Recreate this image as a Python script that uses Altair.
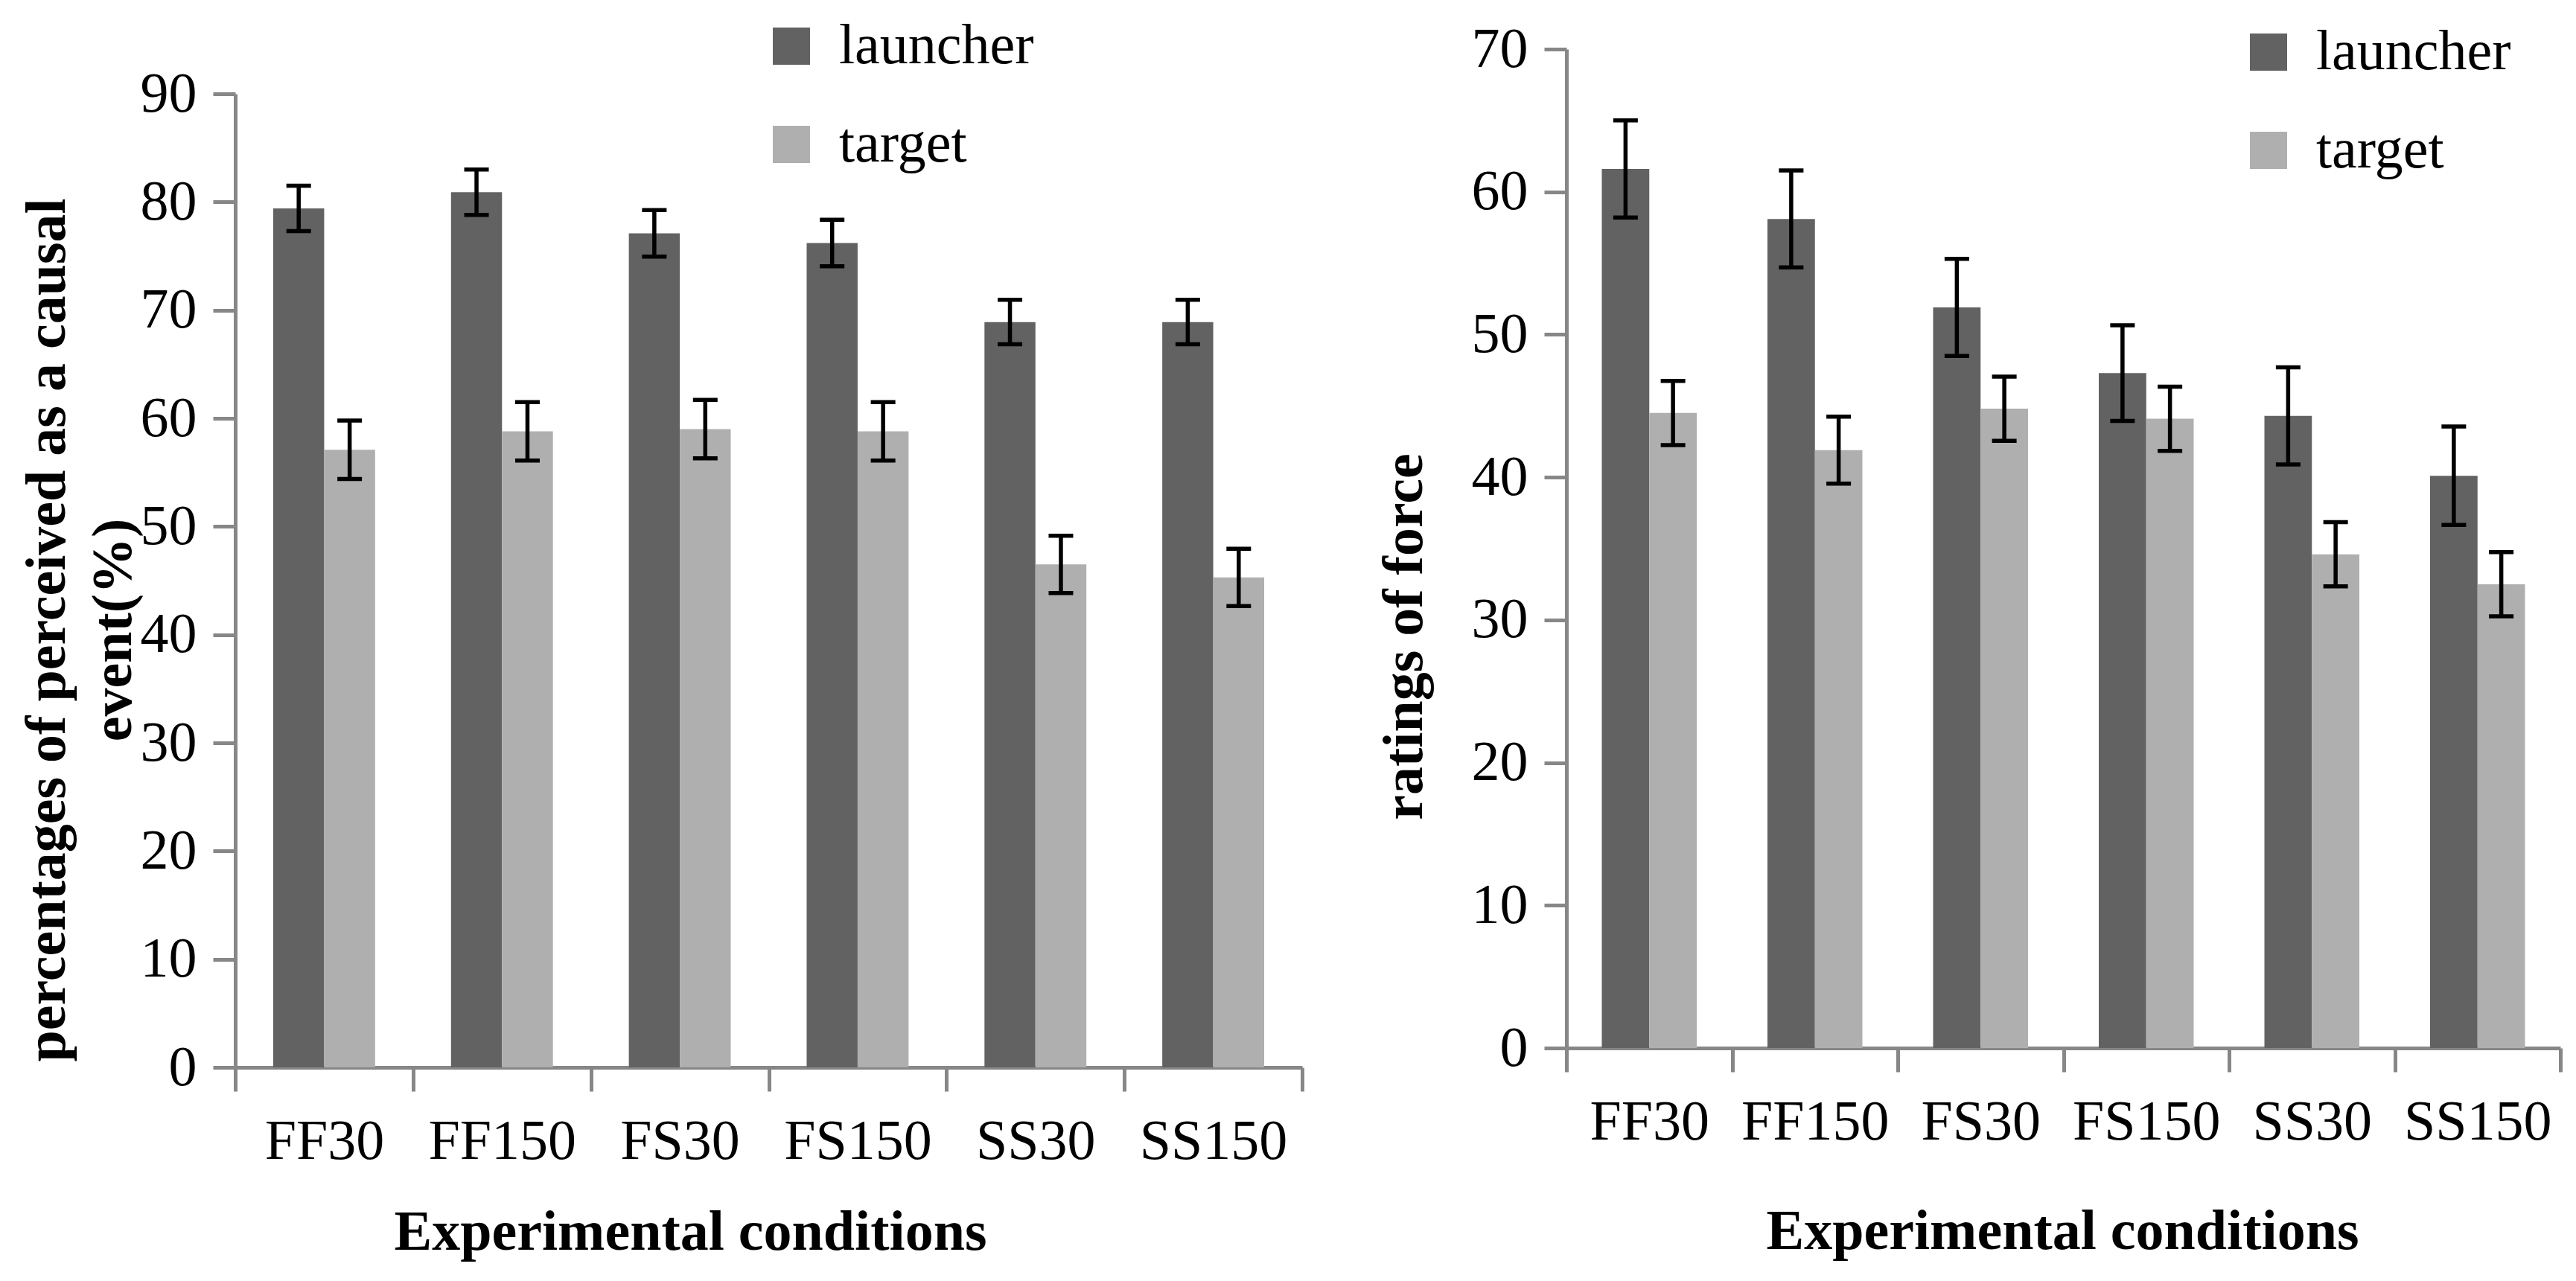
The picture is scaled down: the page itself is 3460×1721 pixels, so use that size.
import altair as alt
import pandas as pd

conditions = ["FF30", "FF150", "FS30", "FS150", "SS30", "SS150"]
series = ["launcher", "target"]

# Left panel: percentages of perceived as a causal event (%)
pct_launcher = [79.4, 80.9, 77.1, 76.2, 68.9, 68.9]
pct_launcher_err = [2.1, 2.1, 2.15, 2.15, 2.05, 2.05]
pct_target = [57.1, 58.8, 59.0, 58.8, 46.5, 45.3]
pct_target_err = [2.7, 2.7, 2.7, 2.7, 2.65, 2.65]

# Right panel: ratings of force
force_launcher = [61.6, 58.1, 51.9, 47.3, 44.3, 40.1]
force_launcher_err = [3.4, 3.4, 3.4, 3.35, 3.4, 3.45]
force_target = [44.5, 41.9, 44.8, 44.1, 34.6, 32.5]
force_target_err = [2.25, 2.35, 2.25, 2.25, 2.25, 2.25]

left_ticks = [0, 10, 20, 30, 40, 50, 60, 70, 80, 90]
right_ticks = [0, 10, 20, 30, 40, 50, 60, 70]

COLORS = ["#626262", "#afafaf"]
AXIS_GRAY = "#878787"
FONT = "Liberation Serif"


def make_df(launcher, launcher_err, target, target_err):
    rows = []
    for i, c in enumerate(conditions):
        rows.append({"condition": c, "series": "launcher", "value": launcher[i],
                     "lo": launcher[i] - launcher_err[i], "hi": launcher[i] + launcher_err[i]})
        rows.append({"condition": c, "series": "target", "value": target[i],
                     "lo": target[i] - target_err[i], "hi": target[i] + target_err[i]})
    return pd.DataFrame(rows)


def panel(df, ymax, ticks, ytitle, width, height, top, ytitle_x, ytitle_y,
          xtitle_x, xtitle_y, leg_x, leg_y):
    xaxis = alt.Axis(
        title="Experimental conditions",
        tickBand="extent",
        labelAngle=0, labelLimit=1000,
        labelFont=FONT, labelFontSize=76, labelColor="black",
        labelBaseline="alphabetic", labelPadding=90,
        tickSize=32, tickWidth=5, tickColor=AXIS_GRAY,
        domainWidth=5, domainColor=AXIS_GRAY,
        titleFont=FONT, titleFontSize=76, titleFontWeight="bold", titleColor="black",
        titleBaseline="alphabetic", titleX=xtitle_x, titleY=xtitle_y, titleAlign="center",
        titleLimit=3000,
        grid=False,
    )
    yaxis = alt.Axis(
        title=ytitle,
        values=ticks, labelLimit=1000,
        labelFont=FONT, labelFontSize=76, labelColor="black", labelPadding=22,
        tickSize=30, tickWidth=5, tickColor=AXIS_GRAY,
        domainWidth=5, domainColor=AXIS_GRAY,
        titleFont=FONT, titleFontSize=76, titleFontWeight="bold", titleColor="black",
        titleAngle=270, titleBaseline="alphabetic", titleAlign="center",
        titleLineHeight=89, titleX=ytitle_x, titleY=ytitle_y, titleLimit=3000,
        grid=False,
    )
    x = alt.X("condition:N", sort=conditions,
              scale=alt.Scale(paddingInner=0, paddingOuter=0), axis=xaxis)
    xo = alt.XOffset("series:N", sort=series,
                     scale=alt.Scale(paddingInner=0, paddingOuter=0.745))
    yscale = alt.Scale(domain=[0, ymax], range=[height, top], nice=False, zero=True)

    base = alt.Chart(df)
    bars = base.mark_bar().encode(
        x=x, xOffset=xo,
        y=alt.Y("value:Q", scale=yscale, axis=yaxis),
        color=alt.Color("series:N", sort=series,
                        scale=alt.Scale(domain=series, range=COLORS),
                        legend=alt.Legend(
                            title=None, orient="none", legendX=leg_x, legendY=leg_y,
                            symbolType="square", symbolSize=2500, symbolStrokeWidth=0,
                            labelFont=FONT, labelFontSize=76, labelColor="black",
                            labelOffset=26, rowPadding=56, padding=0, labelLimit=1000,
                        )),
    )
    rules = base.mark_rule(color="black", strokeWidth=5.5).encode(
        x=x, xOffset=xo,
        y=alt.Y("lo:Q", scale=yscale, axis=yaxis),
        y2="hi:Q",
    )
    cap_hi = base.mark_tick(color="black", size=33, thickness=5.5, opacity=1).encode(
        x=x, xOffset=xo, y=alt.Y("hi:Q", scale=yscale, axis=yaxis))
    cap_lo = base.mark_tick(color="black", size=33, thickness=5.5, opacity=1).encode(
        x=x, xOffset=xo, y=alt.Y("lo:Q", scale=yscale, axis=yaxis))
    return alt.layer(bars, rules, cap_hi, cap_lo).properties(width=width, height=height)


left = panel(make_df(pct_launcher, pct_launcher_err, pct_target, pct_target_err),
             90, left_ticks,
             ["percentages of perceived as a causal", "event(%)"],
             width=1433, height=1368, top=60,
             ytitle_x=-230, ytitle_y=780, xtitle_x=611, xtitle_y=244,
             leg_x=709, leg_y=-42)

right = panel(make_df(force_launcher, force_launcher_err, force_target, force_target_err),
              70, right_ticks, "ratings of force",
              width=1335, height=1342, top=0,
              ytitle_x=-195, ytitle_y=789, xtitle_x=666, xtitle_y=269,
              leg_x=905, leg_y=-34)

chart = alt.hconcat(left, right, spacing=355, bounds="flush").resolve_scale(
    x="independent", y="independent", color="independent", xOffset="independent"
).resolve_legend(color="independent").properties(
    padding={"left": 16, "top": 16, "right": 10, "bottom": 10}
).configure_view(stroke=None)

chart.save("out.html", embed_options={"renderer": "svg", "actions": False})
